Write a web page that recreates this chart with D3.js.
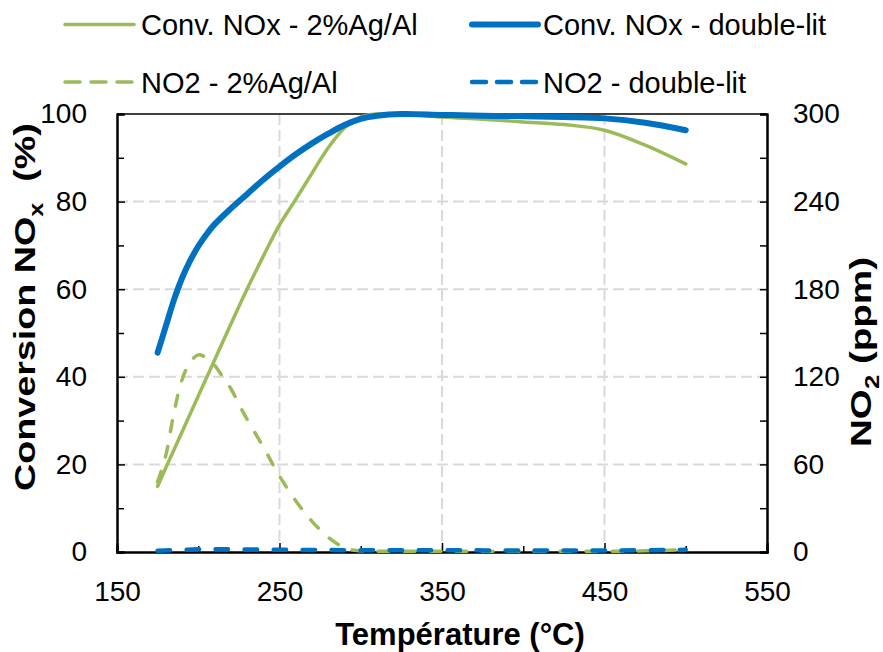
<!DOCTYPE html>
<html><head><meta charset="utf-8">
<script src="https://cdn.jsdelivr.net/npm/d3@7"></script>
<style>body{margin:0;background:#fff}svg{display:block}text{font-family:"Liberation Sans",Arial,sans-serif;fill:#000}</style>
</head><body>
<script>
// ---- data ----
const xTicks = [150, 250, 350, 450, 550];
const yLeftTicks = [0, 20, 40, 60, 80, 100];
const yRightTicks = [0, 60, 120, 180, 240, 300];

const convAgT = [175,180,185,190,200,210,220,230,240,250,260,270,280,290,300,310,325,350,375,400,425,450,475,500];
const convAgV = [15,19.2,23.3,27.4,35.6,43.8,52,60,67.5,74.7,80.5,86.5,92.3,96.8,99.3,100,100,99.3,98.8,98.2,97.6,96.3,92.9,88.6];

const convDlT = [175,180,185,190,195,200,205,210,220,230,240,250,260,270,280,290,300,310,325,350,375,400,425,450,475,500];
const convDlV = [45.5,51.5,57.5,62.5,66.5,69.8,72.5,74.8,78.4,81.7,85,88,90.8,93.3,95.5,97.5,98.9,99.6,100,99.8,99.6,99.5,99.3,99,98,96.3];

const no2AgT = [175,180,185,190,195,200,205,210,215,220,228,240,250,262,270,277,285,292,300,325,350,400,450,475,500];
const no2AgV = [48,66,95,118,130,135,133,128,120,112,95,72,52,32,21,13,6,2,0.8,0.5,0.5,0.5,0.5,0.8,1.5];

const no2DlT = [175,200,250,300,350,400,450,500];
const no2DlV = [0.8,1.8,1.5,1.2,1.2,1.0,1.0,1.5];

const legendLabels = ["Conv. NOx - 2%Ag/Al","Conv. NOx - double-lit","NO2 - 2%Ag/Al","NO2 - double-lit"];

// ---- layout ----
const W = 883, H = 652;
const L = 117, R = 767, T = 114, B = 552;
const green = "#9BBB59", blue = "#0070C0";

const svg = d3.select("body").append("svg").attr("width", W).attr("height", H);
const x = d3.scaleLinear().domain([150, 550]).range([L, R]);
const yL = d3.scaleLinear().domain([0, 100]).range([B, T]);
const yR = d3.scaleLinear().domain([0, 300]).range([B, T]);

// gridlines
const grid = svg.append("g").attr("stroke", "#d9d9d9").attr("stroke-width", 2).attr("stroke-dasharray", "11,5");
[250, 350, 450].forEach(v => grid.append("line").attr("x1", x(v)).attr("x2", x(v)).attr("y1", T).attr("y2", B));
[20, 40, 60, 80].forEach(v => grid.append("line").attr("x1", L).attr("x2", R).attr("y1", yL(v)).attr("y2", yL(v)));

// frame top
svg.append("line").attr("x1", L).attr("x2", R).attr("y1", T).attr("y2", T).attr("stroke", "#000").attr("stroke-width", 1.5);

// axes
const fs = 28;
const axB = svg.append("g").attr("transform", `translate(0,${B})`)
  .call(d3.axisBottom(x).tickValues(xTicks).tickSize(-9).tickPadding(29).tickFormat(d3.format("d")));
const axBminor = svg.append("g").attr("transform", `translate(0,${B})`)
  .call(d3.axisBottom(x).tickValues([200,300,400,500]).tickSize(-6).tickFormat(""));
const axL = svg.append("g").attr("transform", `translate(${L},0)`)
  .call(d3.axisLeft(yL).tickValues(yLeftTicks).tickSize(-8).tickPadding(30));
const axLminor = svg.append("g").attr("transform", `translate(${L},0)`)
  .call(d3.axisLeft(yL).tickValues([10,30,50,70,90]).tickSize(-7).tickFormat(""));
const axR = svg.append("g").attr("transform", `translate(${R},0)`)
  .call(d3.axisRight(yR).tickValues(yRightTicks).tickSize(-7).tickPadding(26));
const axRminor = svg.append("g").attr("transform", `translate(${R},0)`)
  .call(d3.axisRight(yR).tickValues([30,90,150,210,270]).tickSize(-7).tickFormat(""));
[axB, axBminor, axL, axLminor, axR, axRminor].forEach(a => {
  a.selectAll(".domain").attr("stroke", "#000").attr("stroke-width", 2);
  a.selectAll(".tick line").attr("stroke", "#000").attr("stroke-width", 1.5);
  a.selectAll("text").attr("font-size", fs).attr("font-family", '"Liberation Sans",Arial,sans-serif').attr("fill", "#000");
});

// lines
const mk = (xs, ys, yS) => d3.line().curve(d3.curveCatmullRom.alpha(0.5)).x((d, i) => x(xs[i])).y((d, i) => yS(ys[i]))(xs);
svg.append("path").attr("d", mk(convAgT, convAgV, yL)).attr("fill", "none").attr("stroke", green).attr("stroke-width", 3.5).attr("stroke-linecap", "round");
svg.append("path").attr("d", mk(convDlT, convDlV, yL)).attr("fill", "none").attr("stroke", blue).attr("stroke-width", 6).attr("stroke-linecap", "round");
svg.append("path").attr("d", mk(no2AgT, no2AgV, yR)).attr("fill", "none").attr("stroke", green).attr("stroke-width", 3.5).attr("stroke-linecap", "round").attr("stroke-dasharray", "11,15");
svg.append("path").attr("d", mk(no2DlT, no2DlV, yR)).attr("fill", "none").attr("stroke", blue).attr("stroke-width", 4.5).attr("stroke-linecap", "round").attr("stroke-dasharray", "12.5,16.5");

// legend
const leg = [
  {x1: 63, x2: 136, tx: 141, ly: 24.5, by: 35, c: green, w: 3.5, dash: null},
  {x1: 470, x2: 540, tx: 543, ly: 24.5, by: 35, c: blue, w: 6, dash: null},
  {x1: 63, x2: 136, tx: 141, ly: 82, by: 93, c: green, w: 3.5, dash: "15,11"},
  {x1: 470, x2: 540, tx: 543, ly: 82, by: 93, c: blue, w: 4.5, dash: "14,11"}
];
leg.forEach((l, i) => {
  svg.append("line").attr("x1", l.x1 + 2).attr("x2", l.x2 - 2).attr("y1", l.ly).attr("y2", l.ly)
    .attr("stroke", l.c).attr("stroke-width", l.w).attr("stroke-linecap", "round").attr("stroke-dasharray", l.dash);
  svg.append("text").attr("x", l.tx).attr("y", l.by).attr("font-size", 29).text(legendLabels[i]);
});

// axis titles
svg.append("text").attr("x", 460).attr("y", 645).attr("text-anchor", "middle")
  .attr("font-size", 31).attr("font-weight", "bold").text("Température (°C)");

function vtitle(cx, cy, target, parts) {
  const t = svg.append("text").attr("text-anchor", "middle").attr("font-size", 30).attr("font-weight", "bold")
    .attr("xml:space", "preserve");
  parts(t);
  const w = t.node().getBBox().width;
  const s = target / w;
  t.attr("transform", `translate(${cx},${cy}) rotate(-90) scale(${s},1)`);
}
vtitle(35, 307, 368, t => {
  t.append("tspan").text("Conversion NO");
  t.append("tspan").attr("font-size", 20).attr("dy", 8).text("x");
  t.append("tspan").attr("dy", -8).text("  (%)");
});
vtitle(871, 352, 190, t => {
  t.append("tspan").text("NO");
  t.append("tspan").attr("font-size", 20).attr("dy", 8).text("2");
  t.append("tspan").attr("dy", -8).text(" (ppm)");
});
</script>
</body></html>
